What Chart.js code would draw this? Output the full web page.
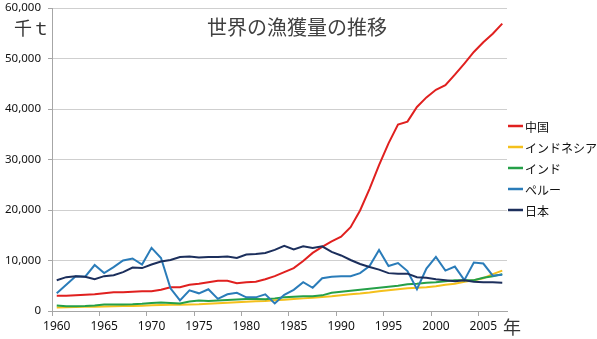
<!DOCTYPE html>
<html>
<head>
<meta charset="utf-8">
<script src="https://cdn.jsdelivr.net/npm/chart.js@4.4.0/dist/chart.umd.min.js"></script>
<style>
    html, body { margin: 0; padding: 0; background: #fff; }
    #wrap { width: 597px; height: 339px; position: relative; }
</style>
</head>
<body>
<div id="wrap"><canvas id="fishChart"></canvas></div>
<script>
// 1960 - 2007, 単位: 千t
const years = [1960,1961,1962,1963,1964,1965,1966,1967,1968,1969,
    1970,1971,1972,1973,1974,1975,1976,1977,1978,1979,
    1980,1981,1982,1983,1984,1985,1986,1987,1988,1989,
    1990,1991,1992,1993,1994,1995,1996,1997,1998,1999,
    2000,2001,2002,2003,2004,2005,2006,2007];

const china = [3000,3000,3100,3200,3300,3500,3700,3700,3800,3900,
    3900,4200,4700,4700,5200,5400,5700,6000,6000,5500,
    5700,5800,6300,6900,7700,8500,9900,11500,12700,13800,
    14700,16600,19900,24200,28900,33200,36900,37500,40400,42300,
    43800,44700,46800,49000,51300,53200,54900,56900];

const indonesia = [700,750,800,850,850,900,950,1000,1000,1050,
    1150,1200,1250,1250,1300,1350,1450,1550,1650,1750,
    1850,1950,2000,2150,2250,2400,2500,2600,2750,2900,
    3100,3300,3450,3650,3900,4100,4300,4500,4600,4700,
    4900,5200,5400,5800,6100,6500,7300,8000];

const india = [1100,950,950,1000,1100,1300,1300,1300,1350,1450,
    1600,1700,1600,1500,1900,2100,2000,2100,2200,2300,
    2400,2400,2350,2500,2700,2800,2900,2900,3100,3600,
    3800,4000,4200,4400,4600,4800,5000,5300,5400,5600,
    5700,5900,6100,6100,6100,6600,6900,7300];

const peru = [3500,5200,6900,6800,9100,7500,8700,10000,10400,9200,
    12500,10500,4500,2100,4100,3500,4300,2400,3300,3600,
    2700,2700,3300,1500,3200,4200,5700,4600,6500,6800,
    6900,6900,7500,8900,12100,8900,9500,7900,4300,8400,
    10700,8000,8800,6100,9600,9400,7000,7200];

const japan = [6100,6700,6900,6800,6300,6900,7100,7700,8600,8500,
    9200,9800,10100,10700,10800,10600,10700,10700,10800,10500,
    11200,11300,11500,12100,12900,12200,12800,12500,12800,11700,
    11000,10100,9300,8700,8200,7500,7400,7400,6700,6600,
    6300,6100,5900,6100,5800,5700,5700,5600];

const seriesNames = ['中国', 'インドネシア', 'インド', 'ペルー', '日本'];
const seriesData = [china, indonesia, india, peru, japan];
const seriesColors = ['#e0201f', '#f4c01c', '#25a048', '#2a7cb9', '#1c2f5c'];

const jpFont = '"Noto Sans CJK JP", "Noto Sans", sans-serif';
const numFont = '"Noto Sans", "DejaVu Sans", sans-serif';

// タイトル・軸の単位・凡例をキャンバスに描く
const textPlugin = {
    id: 'textPlugin',
    afterDraw(chart) {
        const ctx = chart.ctx;
        ctx.save();
        ctx.textBaseline = 'middle';

        ctx.fillStyle = '#404040';
        ctx.font = '20px ' + jpFont;
        ctx.textAlign = 'center';
        ctx.fillText('世界の漁獲量の推移', 297, 27);

        ctx.fillStyle = '#333';
        ctx.font = '18px ' + jpFont;
        ctx.textAlign = 'left';
        ctx.fillText('千ｔ', 14, 28);
        ctx.fillText('年', 503, 327);

        ctx.font = '12px ' + jpFont;
        ctx.fillStyle = '#111';
        for (let i = 0; i < seriesNames.length; i++) {
            let y = 126 + i * 21;
            ctx.strokeStyle = seriesColors[i];
            ctx.lineWidth = 2.5;
            ctx.beginPath();
            ctx.moveTo(508, y);
            ctx.lineTo(523, y);
            ctx.stroke();
            ctx.fillText(seriesNames[i], 525, y + 1);
        }
        ctx.restore();
    }
};

let datasets = [];
for (let i = 0; i < seriesNames.length; i++) {
    datasets.push({
        label: seriesNames[i],
        data: seriesData[i],
        borderColor: seriesColors[i],
        backgroundColor: seriesColors[i],
        borderWidth: 2,
        pointRadius: 0,
        tension: 0,
        order: seriesNames.length - i
    });
}

const config = {
    type: 'line',
    data: {
        labels: years,
        datasets: datasets
    },
    options: {
        responsive: true,
        maintainAspectRatio: false,
        animation: false,
        layout: {
            padding: { left: 0, top: 8, right: 90, bottom: 0 }
        },
        plugins: {
            legend: { display: false },
            tooltip: { enabled: false }
        },
        scales: {
            x: {
                type: 'category',
                offset: true,
                grid: {
                    offset: true,
                    drawOnChartArea: false,
                    drawTicks: true,
                    tickLength: 5,
                    tickColor: (c) => (c.index % 5 === 0 ? '#a6a6a6' : 'rgba(0,0,0,0)')
                },
                border: { display: true, color: '#a6a6a6' },
                ticks: {
                    autoSkip: false,
                    maxRotation: 0,
                    padding: 3,
                    color: '#111',
                    font: { family: numFont, size: 12 },
                    callback: function (value, index) {
                        let y = years[index];
                        return y % 5 === 0 ? String(y) : '';
                    }
                },
                afterFit: (scale) => { scale.height = 28; }
            },
            y: {
                min: 0,
                max: 60000,
                grid: {
                    color: '#cfcfcf',
                    tickLength: 4,
                    tickColor: '#a6a6a6'
                },
                border: { display: true, color: '#a6a6a6' },
                ticks: {
                    stepSize: 10000,
                    padding: 7,
                    color: '#111',
                    font: { family: numFont, size: 11.5 },
                    callback: (v) => v.toLocaleString('en-US')
                },
                afterFit: (scale) => {
                    scale.width = 52;
                    scale.paddingTop = 0;
                    scale.paddingBottom = 0;
                }
            }
        }
    },
    plugins: [textPlugin]
};

let ctx = document.getElementById('fishChart').getContext('2d');
new Chart(ctx, config);
</script>
</body>
</html>
